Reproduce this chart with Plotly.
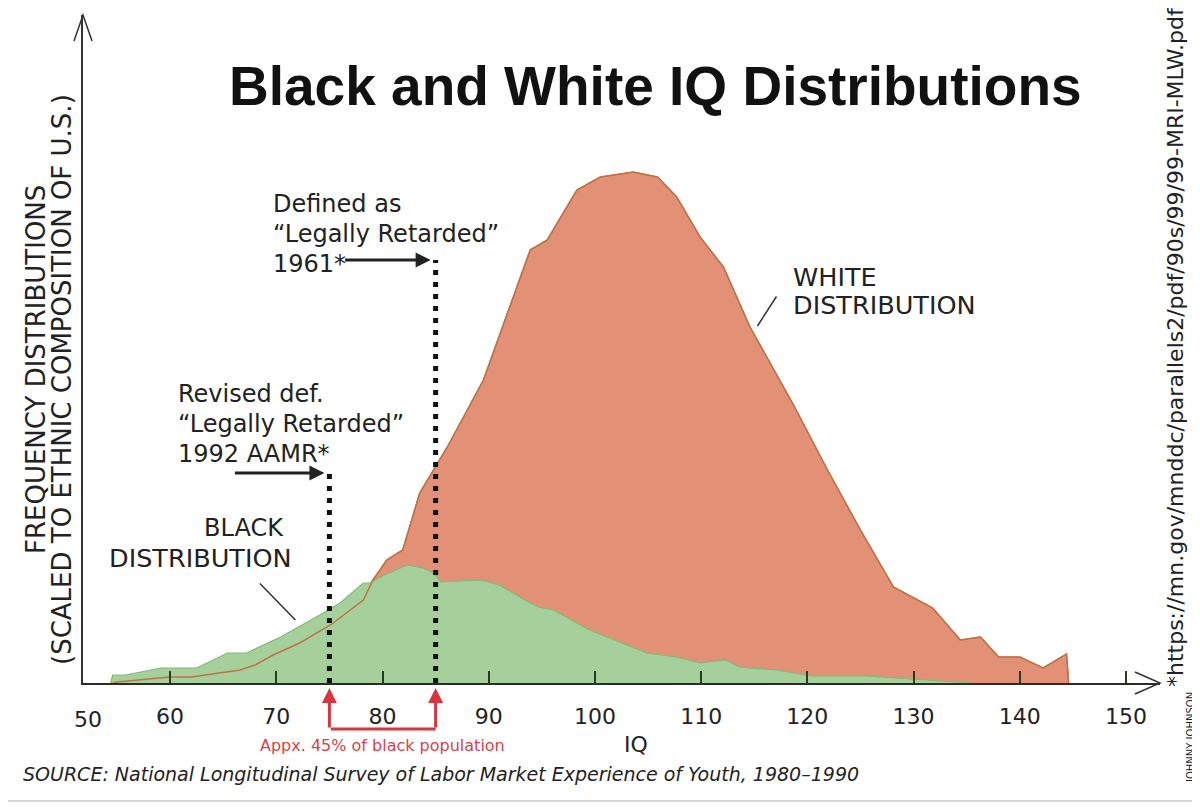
import plotly.graph_objects as go

# IQ distributions (arbitrary frequency units)
iq_white = [54.6, 55.0, 57.0, 60.0, 62.0, 64.0, 66.6, 68.0, 69.7, 72.2, 75.1, 78.2, 79.1, 80.4,
            81.9, 83.5, 85.0, 86.1, 89.5, 93.9, 95.5, 98.3, 100.5, 103.6, 105.9, 107.7, 109.9,
            112.1, 114.6, 118.7, 121.9, 125.0, 128.1, 131.8, 134.4, 136.3, 138.0, 140.0, 142.2,
            144.4, 144.6]
freq_white = [0, 0.1, 0.3, 0.6, 0.6, 0.9, 1.3, 1.8, 2.8, 4.0, 5.8, 8.3, 10.3, 12.3,
              13.3, 19.0, 21.6, 23.6, 30.3, 43.3, 44.3, 49.3, 50.6, 51.1, 50.6, 48.6, 44.6,
              41.6, 35.6, 27.8, 21.3, 15.3, 9.6, 7.5, 4.3, 4.6, 2.6, 2.6, 1.5,
              2.9, 0]

iq_black = [54.4, 54.6, 55.8, 59.1, 62.5, 65.4, 67.2, 70.4, 74.1, 76.0, 78.2, 78.8, 79.8,
            82.3, 83.8, 84.8, 85.5, 89.3, 91.0, 93.4, 94.7, 96.1, 99.5, 104.9, 107.6, 109.9,
            112.3, 113.6, 117.0, 120.4, 125.5, 130.5, 133.9, 135.5]
freq_black = [0, 0.8, 0.8, 1.5, 1.5, 3.0, 3.0, 4.6, 6.8, 8.0, 10.0, 10.0, 10.6,
              11.8, 11.5, 11.0, 10.1, 10.3, 9.8, 8.3, 7.6, 7.3, 5.3, 3.0, 2.6, 2.0,
              2.3, 1.6, 1.3, 0.7, 0.7, 0.3, 0.1, 0]

cutoffs = [75, 85]  # 1992 AAMR / 1961 definitions
tick_vals = [60, 70, 80, 90, 100, 110, 120, 130, 140, 150]
tick_text = ['60', '70', '80', '90', '100', '110', '120', '130', '140', '150']

# the page puts the plot div 8px in from the corner
OFF = 8
W, H = 1200 - OFF, 807 - OFF
ML, MR, MT, MB = 83 - OFF, 40, 15 - OFF, 124
PW, PH = W - ML - MR, H - MT - MB


def px(x):
    # page pixel -> paper x
    return (x - 83) / PW


def py(y):
    # page pixel -> paper y
    return (683 - y) / PH


FONT = 'DejaVu Sans, Verdana, sans-serif'
TXT = '#222'
RED = 'rgb(226,144,118)'
GREEN = 'rgb(166,208,155)'

fig = go.Figure()

fig.add_trace(go.Scatter(x=iq_white, y=freq_white, mode='lines', fill='tozeroy',
                         fillcolor=RED, line=dict(color='rgb(196,110,85)', width=1.2),
                         hoverinfo='skip', showlegend=False))
fig.add_trace(go.Scatter(x=iq_black, y=freq_black, mode='lines', fill='tozeroy',
                         fillcolor=GREEN, line=dict(color='rgb(130,185,120)', width=1.2),
                         hoverinfo='skip', showlegend=False))
# white outline shows through the green on the left
fig.add_trace(go.Scatter(x=iq_white, y=freq_white, mode='lines',
                         line=dict(color='rgb(190,115,70)', width=1.5),
                         hoverinfo='skip', showlegend=False))

# dotted cut-off lines
cut_tops = [21.0, 42.3]
arrow_len = [-96, -92]
for c, top, al in zip(cutoffs, cut_tops, arrow_len):
    fig.add_trace(go.Scatter(x=[c, c], y=[0, top], mode='lines',
                             line=dict(color='#111', width=5, dash='5px,7px'),
                             hoverinfo='skip', showlegend=False))
    fig.add_annotation(x=c, y=top, ax=al, ay=0, text='', showarrow=True,
                       arrowhead=2, arrowsize=1, arrowwidth=3, arrowcolor='#222',
                       standoff=5)
    # red arrow under the axis
    fig.add_annotation(x=c, y=0, ax=0, ay=44, text='', showarrow=True,
                       arrowhead=2, arrowsize=1, arrowwidth=3, arrowcolor='#d9353f',
                       standoff=3, yshift=-2)

# red bracket joining the two arrows
fig.add_annotation(x=cutoffs[1], y=0, ax=cutoffs[0], ay=0, axref='x', ayref='pixel',
                   text='', showarrow=True, arrowhead=0, arrowwidth=3,
                   arrowcolor='#d9353f', yshift=-46)
fig.add_annotation(x=(cutoffs[0] + cutoffs[1]) / 2, y=0, yref='y', yshift=-62,
                   text='Appx. 45% of black population', showarrow=False,
                   font=dict(family=FONT, size=16, color='#d9424c'))


def label(text, x, y, size, anchor='left', **kw):
    fig.add_annotation(x=px(x), y=py(y), xref='paper', yref='paper', xanchor=anchor,
                       yanchor='middle', text=text, showarrow=False,
                       font=dict(family=FONT, size=size, color=TXT), **kw)


for i, line in enumerate(['Defined as', '“Legally Retarded”', '1961*']):
    label(line, 271, 204 + 30 * i, 24)
for i, line in enumerate(['Revised def.', '“Legally Retarded”', '1992 AAMR*']):
    label(line, 176, 394 + 30 * i, 24)
label('BLACK', 244, 528, 24, anchor='center')
label('DISTRIBUTION', 200, 558, 25.5, anchor='center')
label('WHITE', 791, 277, 25.5)
label('DISTRIBUTION', 791, 305, 25.5)

# leader lines to the two curves
fig.add_annotation(x=71.8, y=6.3, ax=-37, ay=-38, text='', showarrow=True,
                   arrowhead=0, arrowwidth=1.5, arrowcolor='#333')
fig.add_annotation(x=115.3, y=35.7, ax=20, ay=-31, text='', showarrow=True,
                   arrowhead=0, arrowwidth=1.5, arrowcolor='#333')

# axis corner label and axis title
label('50', 88, 719, 22, anchor='center')
label('IQ', 636, 745, 22, anchor='center')

# title, source and side notes
fig.add_annotation(x=px(655), y=py(86), xref='paper', yref='paper',
                   xanchor='center', yanchor='middle',
                   text='<b>Black and White IQ Distributions</b>', showarrow=False,
                   font=dict(family='Liberation Sans, Arial, sans-serif', size=55, color='#111'))
label('<i>SOURCE: National Longitudinal Survey of Labor Market Experience of Youth, 1980–1990</i>',
      21, 774, 19)
label('FREQUENCY DISTRIBUTIONS', 36, 370, 26, anchor='center', textangle=-90)
label('(SCALED TO ETHNIC COMPOSITION OF U.S.)', 62, 380, 26, anchor='center', textangle=-90)
label('*https://mn.gov/mnddc/parallels2/pdf/90s/99/99-MRI-MLW.pdf', 1175, 347, 22,
      anchor='center', textangle=-90)
label('JOHNNY JOHNSON', 1190, 738, 10, anchor='center', textangle=-90)

# open arrowheads on both axes
ax_w, ax_h = 25 / PW, 11 / PH
fig.add_shape(type='path', xref='paper', yref='paper',
              path=f'M {1 - ax_w},{ax_h} L 1,0 L {1 - ax_w},{-ax_h}',
              line=dict(color='#333', width=1.5))
ay_w, ay_h = 9 / PW, 26 / PH
fig.add_shape(type='path', xref='paper', yref='paper',
              path=f'M {-ay_w},{1 - ay_h} L 0,1 L {ay_w},{1 - ay_h}',
              line=dict(color='#333', width=1.5))
# faint frame line at the bottom of the picture
fig.add_shape(type='line', xref='paper', yref='paper', x0=px(0), x1=px(1200),
              y0=py(801), y1=py(801), line=dict(color='#d8d8d8', width=2))

fig.update_layout(
    width=W, height=H,
    margin=dict(l=ML, r=MR, t=MT, b=MB),
    plot_bgcolor='white', paper_bgcolor='white',
    font=dict(family=FONT, color=TXT),
)
fig.update_xaxes(range=[51.8, 153.2], tickvals=tick_vals, ticktext=tick_text,
                 ticks='inside', ticklen=12, tickwidth=2, tickcolor='#2a3a28',
                 showgrid=False, zeroline=False, showline=True, linecolor='#2b2b2b', linewidth=2,
                 tickfont=dict(family=FONT, size=22, color=TXT), ticklabelstandoff=13)
fig.update_yaxes(range=[0, PH / 10], showticklabels=False, ticks='', showgrid=False,
                 zeroline=False, showline=True, linecolor='#333', linewidth=1.5)

fig.write_html("out.html")
